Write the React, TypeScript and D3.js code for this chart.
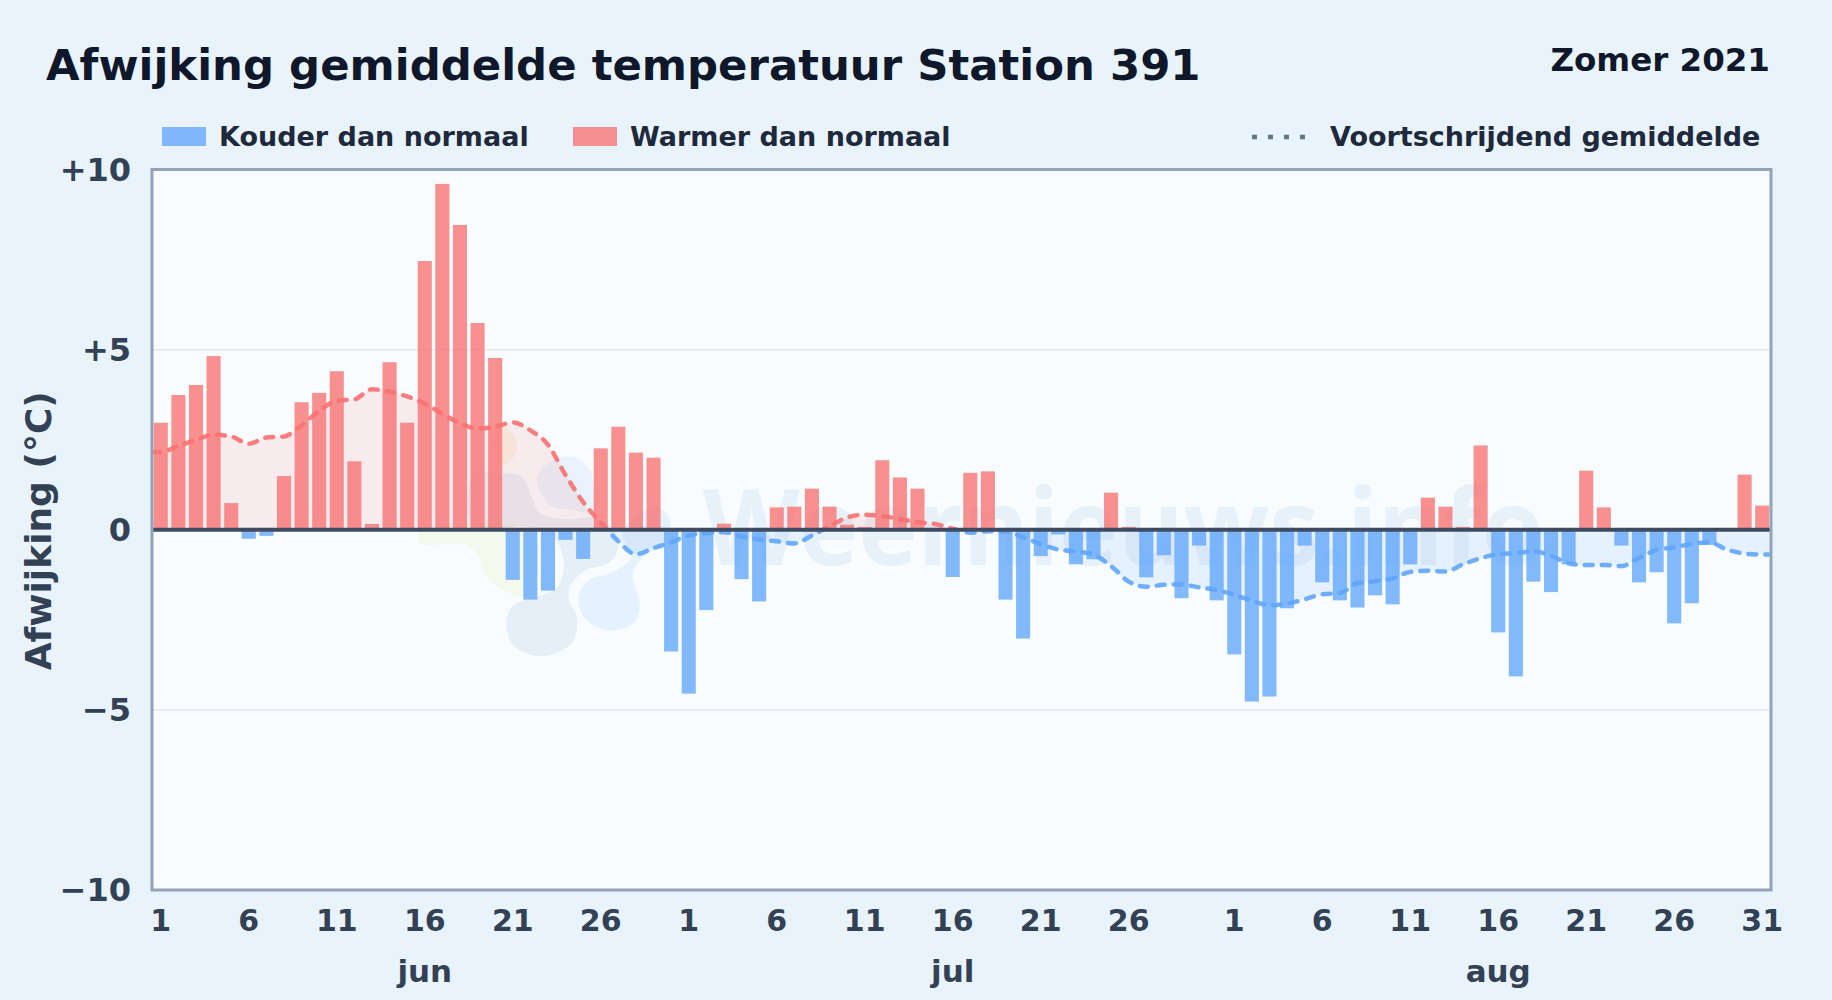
import React from "react";
import * as d3 from "d3";

const monthLabels = ["jun", "jul", "aug"];
const monthLengths = [30, 31, 31];
const yTicks = [10, 5, 0, -5, -10];
const yTickLabels = ["+10", "+5", "0", "−5", "−10"];
const dayTicks = [1, 6, 11, 16, 21, 26, 31];

const juneValues = [2.97, 3.74, 4.02, 4.82, 0.74, -0.25, -0.17, 1.49, 3.54, 3.8, 4.4, 1.9, 0.16, 4.65, 2.97, 7.46, 9.6, 8.46, 5.74, 4.77, -1.39, -1.94, -1.69, -0.28, -0.81, 2.26, 2.86, 2.14, 2.0, -3.38];
const julyValues = [-4.55, -2.23, 0.17, -1.37, -1.99, 0.62, 0.64, 1.14, 0.64, 0.14, 0.08, 1.93, 1.45, 1.14, 0, -1.31, 1.58, 1.62, -1.94, -3.02, -0.73, -0.13, -0.96, -0.82, 1.03, 0.08, -1.32, -0.71, -1.9, -0.44, -1.96];
const augustValues = [-3.46, -4.77, -4.63, -2.18, -0.44, -1.46, -1.96, -2.16, -1.82, -2.07, -0.96, 0.89, 0.64, 0.08, 2.34, -2.85, -4.07, -1.44, -1.73, -0.96, 1.64, 0.62, -0.44, -1.46, -1.18, -2.6, -2.04, -0.42, 0, 1.53, 0.67];

const juneAvg = [2.16, 2.33, 2.49, 2.64, 2.59, 2.39, 2.56, 2.59, 2.9, 3.3, 3.58, 3.62, 3.9, 3.83, 3.7, 3.5, 3.22, 2.96, 2.81, 2.86, 2.98, 2.76, 2.36, 1.52, 0.77, 0.2, -0.32, -0.68, -0.51, -0.35];
const julyAvg = [-0.16, -0.1, -0.07, -0.19, -0.27, -0.32, -0.38, -0.16, 0.1, 0.34, 0.42, 0.38, 0.3, 0.21, 0.16, 0.03, -0.08, -0.04, -0.05, -0.21, -0.4, -0.55, -0.6, -0.69, -1.01, -1.44, -1.58, -1.53, -1.52, -1.6, -1.67];
const augustAvg = [-1.81, -1.97, -2.1, -2.05, -1.93, -1.79, -1.76, -1.48, -1.43, -1.35, -1.17, -1.14, -1.16, -0.96, -0.79, -0.68, -0.65, -0.6, -0.72, -0.93, -0.98, -0.98, -1.01, -0.78, -0.56, -0.49, -0.39, -0.35, -0.55, -0.66, -0.69];

const values = [...juneValues, ...julyValues, ...augustValues];
const averages = [...juneAvg, ...julyAvg, ...augustAvg];

const W = 1832;
const H = 1000;
const L = 152;
const R = 1771;
const T = 169.5;
const B = 890;
const FONT = "'DejaVu Sans', sans-serif";
const COLD = "#60a5fa";
const WARM = "#f87171";

// Outline of the faint logo behind the chart (decoration, not data).
type P = [number, number];
const logoGreen: P[] = [[-60, 330], [-60, 370], [70, 372], [110, 400], [140, 470], [200, 515], [260, 525], [300, 420], [260, 330]];
const logoYellow: P[] = [[186, 15], [228, 60], [225, 105], [186, 135], [160, 80]];
const logoGrey: P[] = [[100, 165], [186, 160], [245, 170], [275, 230], [300, 280], [380, 298], [460, 292], [515, 320], [535, 385], [505, 430], [440, 450], [395, 490], [385, 530], [412, 600], [395, 670], [310, 708], [225, 680], [198, 610], [220, 555], [290, 530], [350, 505], [372, 430], [340, 350], [260, 320], [100, 320]];
const logoBlue: P[] = [[415, 540], [440, 485], [520, 455], [575, 410], [545, 340], [600, 280], [660, 265], [692, 310], [670, 370], [610, 410], [578, 460], [600, 560], [580, 610], [510, 632], [440, 600]];
const logoTop: P[] = [[290, 180], [330, 125], [400, 110], [450, 150], [462, 210], [470, 280], [400, 270], [330, 255]];

export default function App() {
  const x = d3.scaleBand<number>().domain(d3.range(values.length)).range([L, R]).paddingInner(0.2).paddingOuter(0.1);
  const y = d3.scaleLinear().domain([-10, 10]).range([B, T]);
  const cx = (i: number) => (x(i) as number) + x.bandwidth() / 2;
  const pts: [number, number][] = [
    [L, y(averages[0])],
    ...averages.map((v, i) => [cx(i), y(v)] as [number, number]),
    [R - 2, y(averages[averages.length - 1])],
  ];
  const line = d3.line().curve(d3.curveMonotoneX)(pts) as string;
  const area = d3.area().curve(d3.curveMonotoneX).x((d) => d[0]).y0(y(0)).y1((d) => d[1])(pts) as string;
  const blob = d3.line().curve(d3.curveCatmullRomClosed.alpha(0.5));

  let offset = 0;
  const months = monthLabels.map((label, m) => {
    const start = offset;
    offset += monthLengths[m];
    return { label, start, len: monthLengths[m] };
  });

  return (
    <svg
      width={W}
      height={H}
      viewBox={`0 0 ${W} ${H}`}
      style={{ position: "absolute", left: 0, top: 0, fontFamily: FONT }}
    >
      <defs>
        <clipPath id="pos"><rect x={L} y={T} width={R - L} height={y(0) - T} /></clipPath>
        <clipPath id="neg"><rect x={L} y={y(0)} width={R - L} height={B - y(0)} /></clipPath>
        <clipPath id="plot"><rect x={L} y={T} width={R - L} height={B - T} /></clipPath>
      </defs>
      <rect width={W} height={H} fill="#e9f3fc" />
      <rect x={L} y={T} width={R - L} height={B - T} fill="#f8fcff" />

      <g clipPath="url(#plot)">
        <g transform="translate(440 420) scale(0.3333)">
          <path d={blob(logoGreen) as string} fill="#eef6d8" opacity={0.45} />
          <path d={blob(logoYellow) as string} fill="#f4eccb" opacity={0.45} />
          <path d={blob(logoGrey) as string} fill="#b9cfe4" opacity={0.3} />
          <path d={blob(logoBlue) as string} fill="#cfe6fb" opacity={0.45} />
          <path d={blob(logoTop) as string} fill="#cfe6fb" opacity={0.4} />
        </g>
        <text x={703} y={565} fontFamily="'Open Sans', sans-serif" fontWeight={700} fontSize={106} textLength={841} lengthAdjust="spacingAndGlyphs" fill="#a9c6e2" opacity={0.2}>Weernieuws.info</text>
      </g>

      {[5, -5].map((t) => (
        <line key={t} x1={L} x2={R} y1={y(t)} y2={y(t)} stroke="#e2e8f0" strokeWidth={1.5} />
      ))}

      <path d={area} fill={WARM} opacity={0.12} clipPath="url(#pos)" />
      <path d={area} fill={COLD} opacity={0.12} clipPath="url(#neg)" />

      {values.map((v, i) =>
        v === 0 ? null : (
          <rect
            key={i}
            x={x(i)}
            width={x.bandwidth()}
            y={v > 0 ? y(v) : y(0)}
            height={Math.abs(y(v) - y(0))}
            fill={v > 0 ? WARM : COLD}
            opacity={0.78}
          />
        )
      )}

      <path d={line} fill="none" stroke={WARM} strokeWidth={4.5} strokeDasharray="8 9" strokeLinecap="round" opacity={0.9} clipPath="url(#pos)" />
      <path d={line} fill="none" stroke={COLD} strokeWidth={4.5} strokeDasharray="8 9" strokeLinecap="round" opacity={0.9} clipPath="url(#neg)" />

      <line x1={L} x2={R} y1={y(0)} y2={y(0)} stroke="#3f4b61" strokeWidth={4} />
      <rect x={L} y={T} width={R - L} height={B - T} fill="none" stroke="#94a3b8" strokeWidth={3} />

      <text x={46} y={80} fontSize={43.4} fontWeight={700} fill="#0f172a">Afwijking gemiddelde temperatuur Station 391</text>
      <text x={1770} y={71} fontSize={32.5} fontWeight={700} fill="#0f172a" textAnchor="end">Zomer 2021</text>

      <rect x={162} y={127} width={44} height={19} fill={COLD} opacity={0.78} />
      <text x={219} y={146} fontSize={27} fontWeight={700} fill="#1e293b">Kouder dan normaal</text>
      <rect x={573} y={127} width={44} height={19} fill={WARM} opacity={0.78} />
      <text x={630} y={146} fontSize={27} fontWeight={700} fill="#1e293b">Warmer dan normaal</text>
      <line x1={1252} x2={1308} y1={137} y2={137} stroke="#64748b" strokeWidth={4.5} strokeDasharray="5 11" />
      <text x={1330} y={146} fontSize={27} fontWeight={700} fill="#1e293b">Voortschrijdend gemiddelde</text>

      {yTicks.map((t, i) => (
        <text key={t} x={131} y={y(t)} fontSize={32} fontWeight={700} fill="#334155" textAnchor="end" dominantBaseline="central">{yTickLabels[i]}</text>
      ))}
      <text transform={`translate(38,${y(0) + 1}) rotate(-90)`} fontSize={36} fontWeight={700} fill="#334155" textAnchor="middle" dominantBaseline="central">Afwijking (°C)</text>

      {months.map((m) => (
        <g key={m.label}>
          {dayTicks.filter((d) => d <= m.len).map((d) => (
            <text key={d} x={cx(m.start + d - 1)} y={931} fontSize={30} fontWeight={700} fill="#334155" textAnchor="middle">{d === 31 && m.label === "jul" ? "" : d}</text>
          ))}
          <text x={cx(m.start + 15)} y={982} fontSize={31} fontWeight={700} fill="#334155" textAnchor="middle">{m.label}</text>
        </g>
      ))}
    </svg>
  );
}
